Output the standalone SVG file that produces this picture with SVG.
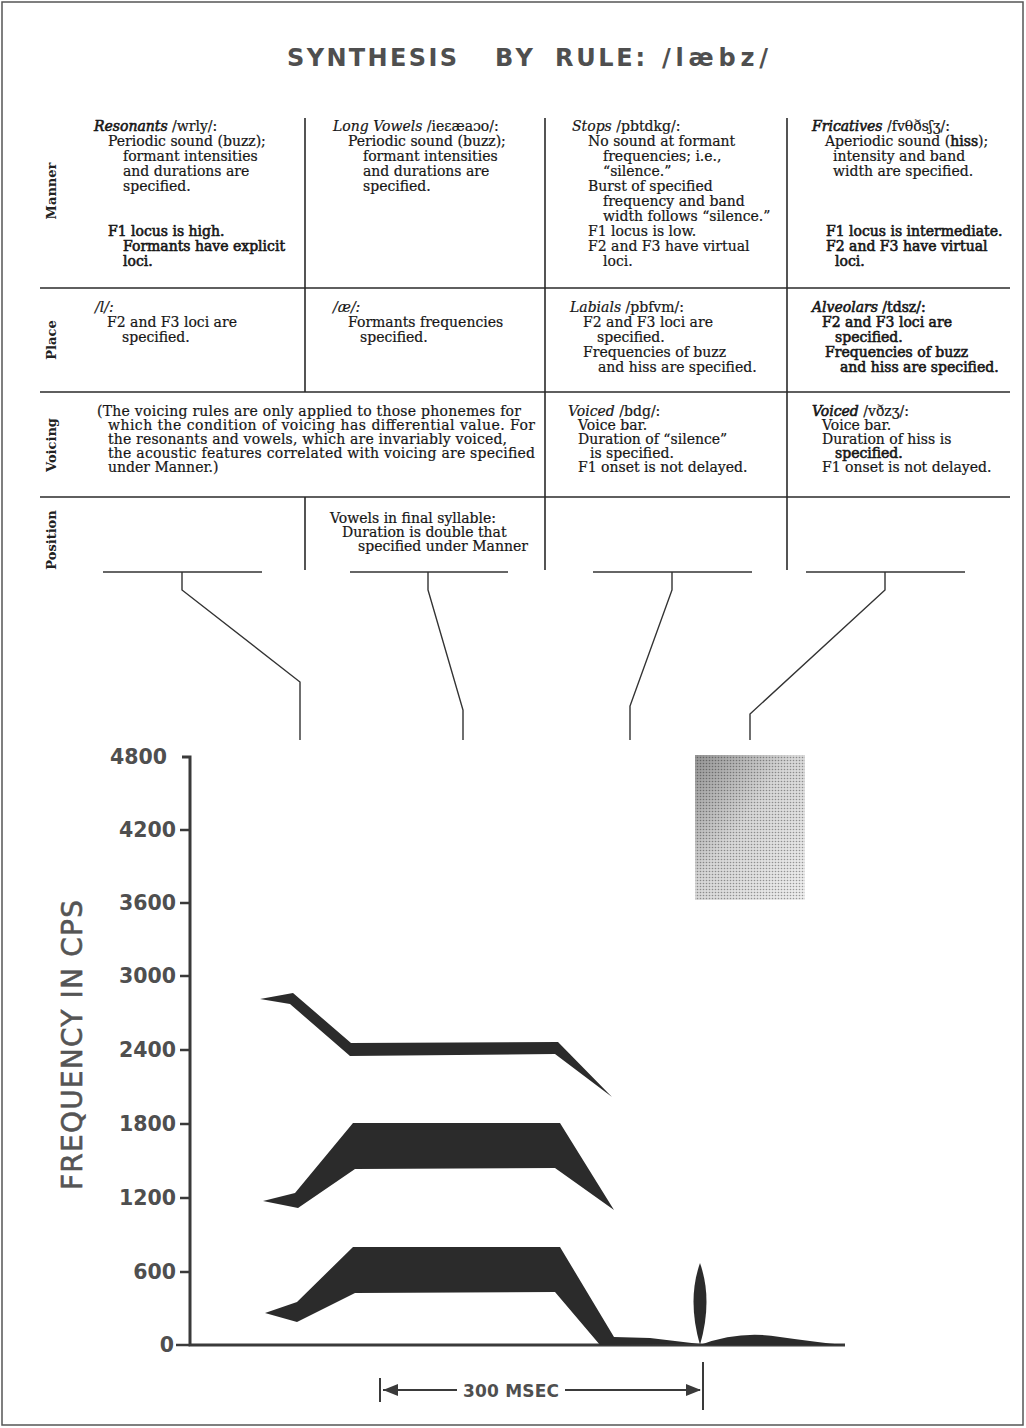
<svg xmlns="http://www.w3.org/2000/svg" width="1026" height="1428" viewBox="0 0 1026 1428">
<style>
.t{font-family:"DejaVu Serif","Liberation Serif",serif;font-size:14px;fill:#161616;stroke:#161616;stroke-width:0.2}
.b{stroke-width:0.6}
.i{font-style:italic}
.rl{font-family:"DejaVu Serif","Liberation Serif",serif;font-size:13px;font-weight:bold;fill:#222;text-anchor:middle}
.g{stroke:#2a2a2a;stroke-width:1.6;fill:none}
.c{stroke:#333;stroke-width:1.4;fill:none}
.ax{font-family:"DejaVu Sans","Liberation Sans",sans-serif;font-weight:bold;fill:#4f4f4f}
.lab{font-size:20.5px;text-anchor:end}
.fm{fill:#2b2b2b}
</style>
<defs>
<pattern id="stip" width="3" height="3" patternUnits="userSpaceOnUse">
<rect width="3" height="3" fill="#eeeeee"/>
<circle cx="1.5" cy="1.5" r="0.8" fill="#999"/>
</pattern>
<linearGradient id="hg" x1="0" y1="0" x2="1" y2="1">
<stop offset="0" stop-color="#000" stop-opacity="0.38"/>
<stop offset="0.45" stop-color="#000" stop-opacity="0.1"/>
<stop offset="1" stop-color="#000" stop-opacity="0"/>
</linearGradient>
</defs>
<rect width="1026" height="1428" fill="#fff"/>
<rect x="2" y="2" width="1021" height="1423" fill="none" stroke="#555" stroke-width="1.5"/>

<g id="title" class="ax">
<text x="287" y="66" font-size="24" textLength="170" lengthAdjust="spacing">SYNTHESIS</text>
<text x="495" y="66" font-size="24" textLength="38" lengthAdjust="spacing">BY</text>
<text x="555" y="66" font-size="24" textLength="90" lengthAdjust="spacing">RULE:</text>
<text x="662" y="66" font-size="24" textLength="106" lengthAdjust="spacing">/læbz/</text>
</g>

<g id="grid">
<line class="g" x1="40" y1="288" x2="1010" y2="288"/>
<line class="g" x1="40" y1="392" x2="1010" y2="392"/>
<line class="g" x1="40" y1="497" x2="1010" y2="497"/>
<line class="g" x1="305" y1="118" x2="305" y2="392"/>
<line class="g" x1="305" y1="497" x2="305" y2="570"/>
<line class="g" x1="545" y1="118" x2="545" y2="570"/>
<line class="g" x1="787" y1="118" x2="787" y2="570"/>
</g>

<g id="row-labels">
<text class="rl" transform="translate(56,191) rotate(-90)">Manner</text>
<text class="rl" transform="translate(56,340) rotate(-90)">Place</text>
<text class="rl" transform="translate(56,445) rotate(-90)">Voicing</text>
<text class="rl" transform="translate(56,540) rotate(-90)">Position</text>
</g>

<g id="manner-resonants" class="t">
<text x="94" y="131"><tspan class="i b">Resonants</tspan> /wrly/:</text>
<text x="108" y="146">Periodic sound (buzz);</text>
<text x="123" y="161">formant intensities</text>
<text x="123" y="176">and durations are</text>
<text x="123" y="191">specified.</text>
<text x="108" y="236" class="b">F1 locus is high.</text>
<text x="123" y="251" class="b">Formants have explicit</text>
<text x="123" y="266" class="b">loci.</text>
</g>

<g id="manner-vowels" class="t">
<text x="333" y="131"><tspan class="i">Long Vowels</tspan> /ieɛæaɔo/:</text>
<text x="348" y="146">Periodic sound (buzz);</text>
<text x="363" y="161">formant intensities</text>
<text x="363" y="176">and durations are</text>
<text x="363" y="191">specified.</text>
</g>

<g id="manner-stops" class="t">
<text x="572" y="131"><tspan class="i">Stops</tspan> /pbtdkg/:</text>
<text x="588" y="146">No sound at formant</text>
<text x="603" y="161">frequencies; i.e.,</text>
<text x="603" y="176">“silence.”</text>
<text x="588" y="191">Burst of specified</text>
<text x="603" y="206">frequency and band</text>
<text x="603" y="221">width follows “silence.”</text>
<text x="588" y="236">F1 locus is low.</text>
<text x="588" y="251">F2 and F3 have virtual</text>
<text x="603" y="266">loci.</text>
</g>

<g id="manner-fricatives" class="t">
<text x="812" y="131"><tspan class="i b">Fricatives</tspan> /fvθðsʃʒ/:</text>
<text x="825" y="146">Aperiodic sound (<tspan class="b">hiss</tspan>);</text>
<text x="833" y="161">intensity and band</text>
<text x="833" y="176">width are specified.</text>
<text x="826" y="236" class="b">F1 locus is intermediate.</text>
<text x="826" y="251" class="b">F2 and F3 have virtual</text>
<text x="835" y="266" class="b">loci.</text>
</g>

<g id="place-l" class="t">
<text x="95" y="312" class="i">/l/:</text>
<text x="107" y="327">F2 and F3 loci are</text>
<text x="122" y="342">specified.</text>
</g>

<g id="place-ae" class="t">
<text x="333" y="312" class="i">/æ/:</text>
<text x="348" y="327">Formants frequencies</text>
<text x="360" y="342">specified.</text>
</g>

<g id="place-labials" class="t">
<text x="570" y="312"><tspan class="i">Labials</tspan> /pbfvm/:</text>
<text x="583" y="327">F2 and F3 loci are</text>
<text x="597" y="342">specified.</text>
<text x="583" y="357">Frequencies of buzz</text>
<text x="598" y="372">and hiss are specified.</text>
</g>

<g id="place-alveolars" class="t b">
<text x="812" y="312"><tspan class="i">Alveolars</tspan> /tdsz/:</text>
<text x="822" y="327">F2 and F3 loci are</text>
<text x="835" y="342">specified.</text>
<text x="825" y="357">Frequencies of buzz</text>
<text x="840" y="372">and hiss are specified.</text>
</g>

<g id="voicing-general" class="t">
<text x="97" y="416" textLength="424" lengthAdjust="spacing">(The voicing rules are only applied to those phonemes for</text>
<text x="108" y="430" textLength="427" lengthAdjust="spacing">which the condition of voicing has differential value. For</text>
<text x="108" y="444" textLength="399" lengthAdjust="spacing">the resonants and vowels, which are invariably voiced,</text>
<text x="108" y="458" textLength="427" lengthAdjust="spacing">the acoustic features correlated with voicing are specified</text>
<text x="108" y="472">under Manner.)</text>
</g>

<g id="voicing-stops" class="t">
<text x="568" y="416"><tspan class="i">Voiced</tspan> /bdg/:</text>
<text x="578" y="430">Voice bar.</text>
<text x="578" y="444">Duration of “silence”</text>
<text x="590" y="458">is specified.</text>
<text x="578" y="472">F1 onset is not delayed.</text>
</g>

<g id="voicing-fricatives" class="t">
<text x="812" y="416"><tspan class="i b">Voiced</tspan> /vðzʒ/:</text>
<text x="822" y="430">Voice bar.</text>
<text x="822" y="444">Duration of hiss is</text>
<text x="835" y="458" class="b">specified.</text>
<text x="822" y="472">F1 onset is not delayed.</text>
</g>

<g id="position-vowels" class="t">
<text x="330" y="523">Vowels in final syllable:</text>
<text x="342" y="537">Duration is double that</text>
<text x="358" y="551">specified under Manner</text>
</g>

<g id="connectors">
<line class="c" x1="103" y1="572" x2="262" y2="572"/>
<line class="c" x1="350" y1="572" x2="508" y2="572"/>
<line class="c" x1="593" y1="572" x2="752" y2="572"/>
<line class="c" x1="806" y1="572" x2="965" y2="572"/>
<path class="c" d="M182,572 V590 L300,682 V740"/>
<path class="c" d="M428,572 V590 L463,710 V740"/>
<path class="c" d="M672,572 V590 L630,706 V740"/>
<path class="c" d="M885,572 V590 L750,714 V740"/>
</g>

<g id="axis">
<path d="M182,757 H190 V1345 H845" stroke="#3a3a3a" stroke-width="3" fill="none"/>
<g stroke="#3a3a3a" stroke-width="2.5">
<line x1="180" y1="830" x2="190" y2="830"/>
<line x1="180" y1="903" x2="190" y2="903"/>
<line x1="180" y1="976" x2="190" y2="976"/>
<line x1="180" y1="1050" x2="190" y2="1050"/>
<line x1="180" y1="1124" x2="190" y2="1124"/>
<line x1="180" y1="1198" x2="190" y2="1198"/>
<line x1="180" y1="1272" x2="190" y2="1272"/>
<line x1="176" y1="1345" x2="190" y2="1345"/>
</g>
<g class="ax lab">
<text x="167" y="764">4800</text>
<text x="176" y="837">4200</text>
<text x="176" y="910">3600</text>
<text x="176" y="983">3000</text>
<text x="176" y="1057">2400</text>
<text x="176" y="1131">1800</text>
<text x="176" y="1205">1200</text>
<text x="176" y="1279">600</text>
<text x="174" y="1352">0</text>
</g>
<text font-family="DejaVu Sans, Liberation Sans, sans-serif" fill="#555" stroke="#555" stroke-width="0.6" font-size="28" text-anchor="middle" transform="translate(82,1045) rotate(-90)" textLength="290" lengthAdjust="spacing">FREQUENCY IN CPS</text>
</g>

<g id="hiss">
<rect x="695" y="755" width="110" height="145" fill="url(#stip)"/>
<rect x="695" y="755" width="110" height="145" fill="url(#hg)"/>
</g>

<g id="formants">
<path class="fm" d="M260,999 L293,993 L351,1043 L558,1042 L612,1097 L555,1054 L350,1056 L290,1004 Z"/>
<path class="fm" d="M263,1201 L295,1193 L353,1123 L560,1123 L614,1210 L555,1168 L355,1169 L298,1208 Z"/>
<path class="fm" d="M265,1313 L297,1302 L353,1247 L560,1247 L614,1337 L650,1338 L700,1344 L600,1345 L555,1292 L355,1293 L297,1322 Z"/>
<path class="fm" d="M700,1263 Q713,1300 700,1345 Q687,1300 700,1263 Z"/>
<path class="fm" d="M700,1345 Q740,1330 780,1337 Q815,1342 845,1345 Z"/>
</g>

<g id="time-scale">
<line x1="380" y1="1378" x2="380" y2="1402" stroke="#3a3a3a" stroke-width="2"/>
<line x1="703" y1="1362" x2="703" y2="1410" stroke="#3a3a3a" stroke-width="2"/>
<line x1="383" y1="1390" x2="457" y2="1390" stroke="#3a3a3a" stroke-width="2"/>
<line x1="565" y1="1390" x2="700" y2="1390" stroke="#3a3a3a" stroke-width="2"/>
<path d="M383,1390 L398,1384 L398,1396 Z" fill="#3a3a3a"/>
<path d="M701,1390 L686,1384 L686,1396 Z" fill="#3a3a3a"/>
<text class="ax" x="511" y="1397" font-size="17" text-anchor="middle" textLength="96" lengthAdjust="spacing">300 MSEC</text>
</g>
</svg>
